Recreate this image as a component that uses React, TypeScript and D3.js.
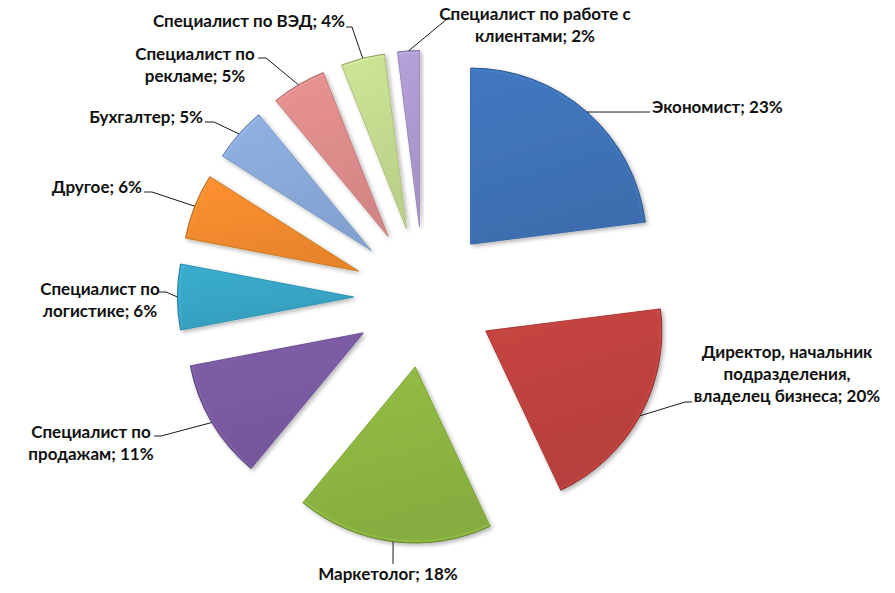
import React from "react";
import * as d3 from "d3";

// ---- data ----
const categories = [
  "Экономист",
  "Директор, начальник подразделения, владелец бизнеса",
  "Маркетолог",
  "Специалист по продажам",
  "Специалист по логистике",
  "Другое",
  "Бухгалтер",
  "Специалист по рекламе",
  "Специалист по ВЭД",
  "Специалист по работе с клиентами",
];
const values = [23, 20, 18, 11, 6, 6, 5, 5, 4, 2];
const labelLines = [
  ["Экономист; 23%"],
  ["Директор, начальник", "подразделения,", "владелец бизнеса; 20%"],
  ["Маркетолог; 18%"],
  ["Специалист по", "продажам; 11%"],
  ["Специалист по", "логистике; 6%"],
  ["Другое; 6%"],
  ["Бухгалтер; 5%"],
  ["Специалист по", "рекламе; 5%"],
  ["Специалист по ВЭД; 4%"],
  ["Специалист по работе с", "клиентами; 2%"],
];
const colors = [
  "#3F73B8",
  "#BF423F",
  "#8DB642",
  "#7A5BA2",
  "#38A6C6",
  "#F48B2E",
  "#8AAADB",
  "#DF8D8B",
  "#C4DC90",
  "#AD9BD1",
];

// ---- layout ----
const W = 895;
const H = 593;
const CX = 424;
const CY = 297;
const R = 176;
const EXPLODE = 70.6;
const FONT = 17;
const LINE_H = 22;

type LabelLayout = {
  x: number;
  y: number;
  anchor: "start" | "middle" | "end";
  elbow: [number, number];
  end: [number, number];
};
const labelLayout: LabelLayout[] = [
  { x: 652, y: 113, anchor: "start", elbow: [646, 112], end: [650, 112] },
  { x: 787, y: 358, anchor: "middle", elbow: [685, 402], end: [692, 402] },
  { x: 388, y: 580, anchor: "middle", elbow: [393, 560], end: [393, 564] },
  { x: 91, y: 438, anchor: "middle", elbow: [161, 436], end: [154, 436] },
  { x: 100, y: 295, anchor: "middle", elbow: [166, 292], end: [159, 292] },
  { x: 142, y: 193, anchor: "end", elbow: [152, 192], end: [144, 192] },
  { x: 203, y: 123, anchor: "end", elbow: [214, 122], end: [205, 122] },
  { x: 195, y: 60, anchor: "middle", elbow: [266, 58], end: [258, 58] },
  { x: 345, y: 27, anchor: "end", elbow: [352, 27], end: [346, 27] },
  { x: 535, y: 20, anchor: "middle", elbow: [447, 19], end: [453, 19] },
];

export default function App() {
  const pie = d3
    .pie<number>()
    .sort(null)
    .value((d) => d)
    .startAngle(0)
    .endAngle(2 * Math.PI);
  const arcs = pie(values);
  const arc = d3.arc<d3.PieArcDatum<number>>().innerRadius(0).outerRadius(R);
  const innerArc = d3.arc<d3.PieArcDatum<number>>().innerRadius(0).outerRadius(R - 2);

  return (
    <svg
      width={W}
      height={H}
      style={{ position: "absolute", left: 0, top: 0, background: "#fff" }}
      fontFamily="Lato, 'Open Sans', sans-serif"
    >
      <defs>
        <filter id="shadow" x="-20%" y="-20%" width="140%" height="140%">
          <feGaussianBlur in="SourceAlpha" stdDeviation="2" result="blur" />
          <feOffset in="blur" dx="1.5" dy="2" result="off" />
          <feComponentTransfer in="off" result="offA">
            <feFuncA type="linear" slope="0.3" />
          </feComponentTransfer>
          <feMerge>
            <feMergeNode in="offA" />
            <feMergeNode in="SourceGraphic" />
          </feMerge>
        </filter>
        {colors.map((c, i) => (
          <linearGradient key={i} id={`g${i}`} x1="0" y1="0" x2="0.3" y2="1">
            <stop offset="0" stopColor={d3.color(c)!.brighter(0.12).formatHex()} />
            <stop offset="0.5" stopColor={d3.color(c)!.formatHex()} />
            <stop offset="1" stopColor={d3.color(c)!.darker(0.15).formatHex()} />
          </linearGradient>
        ))}
      </defs>
      {arcs.map((a, i) => {
        const mid = (a.startAngle + a.endAngle) / 2;
        const ox = CX + EXPLODE * Math.sin(mid);
        const oy = CY - EXPLODE * Math.cos(mid);
        const dark = d3.color(colors[i])!.darker(0.9).formatHex();
        const light = d3.color(colors[i])!.brighter(0.6).formatHex();
        return (
          <g key={categories[i]} transform={`translate(${ox},${oy})`} filter="url(#shadow)">
            <path d={arc(a) || ""} fill={`url(#g${i})`} stroke={dark} strokeWidth={1} strokeLinejoin="round" />
            <path
              d={innerArc(a) || ""}
              fill="none"
              stroke={light}
              strokeOpacity={0.3}
              strokeWidth={1.5}
              strokeLinejoin="round"
            />
          </g>
        );
      })}
      {arcs.map((a, i) => {
        const mid = (a.startAngle + a.endAngle) / 2;
        const ox = CX + (EXPLODE + R) * Math.sin(mid);
        const oy = CY - (EXPLODE + R) * Math.cos(mid);
        const L = labelLayout[i];
        const pts: [number, number][] = [[ox, oy], L.elbow, L.end];
        return (
          <path
            key={`l${i}`}
            d={d3.line()(pts) || ""}
            fill="none"
            stroke="#1a1a1a"
            strokeWidth={1}
          />
        );
      })}
      {labelLines.map((lines, i) => {
        const L = labelLayout[i];
        return (
          <text
            key={`t${i}`}
            x={L.x}
            y={L.y}
            textAnchor={L.anchor}
            fontSize={FONT}
            fontWeight={700}
            fill="#111"
          >
            {lines.map((ln, j) => (
              <tspan key={j} x={L.x} y={L.y + j * LINE_H}>
                {ln}
              </tspan>
            ))}
          </text>
        );
      })}
    </svg>
  );
}
